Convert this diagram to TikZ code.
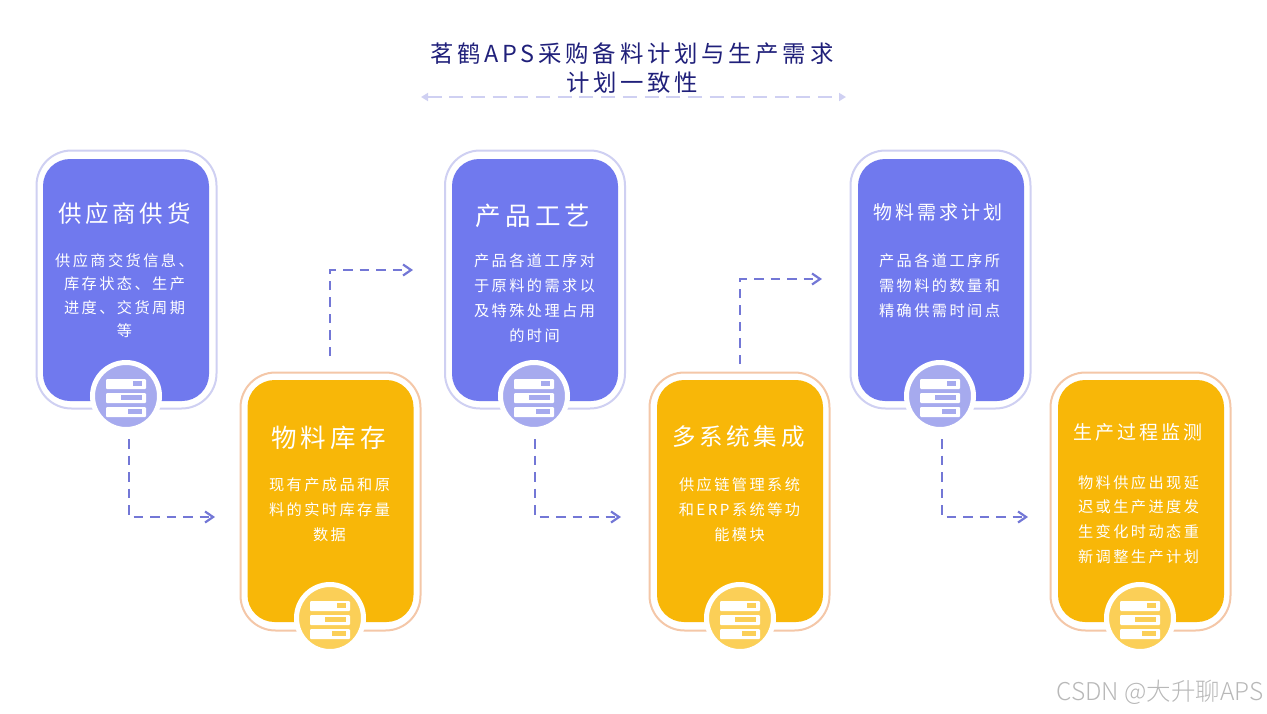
\documentclass[tikz,border=0pt]{standalone}
\usepackage{fontspec}
\usepackage{tikz}
\usetikzlibrary{arrows.meta}
\setmainfont{Noto Sans CJK SC}
\newfontfamily\spacedfont[LetterSpace=16]{Noto Sans CJK SC}
\newfontfamily\markfont{Noto Sans CJK SC Light}
\definecolor{cardblue}{HTML}{7079EE}
\definecolor{cardamber}{HTML}{F8B708}
\definecolor{ringblue}{HTML}{CFD0F2}
\definecolor{ringamber}{HTML}{F4C7A8}
\definecolor{iconblue}{HTML}{A6AAEE}
\definecolor{iconamber}{HTML}{FBCF57}
\definecolor{flowblue}{HTML}{7377D6}
\definecolor{titleblue}{HTML}{20207A}
\tikzset{
  outerbox/.style={rounded corners=35pt, line width=2pt, fill=white, minimum width=180pt, minimum height=258pt, inner sep=0pt},
  innerbox/.style={rounded corners=27pt, minimum width=166pt, minimum height=242pt, inner sep=0pt},
  iconcircle/.style={circle, draw=white, line width=5pt, minimum size=67pt, inner sep=0pt},
  heading/.style={text=white},
  detail/.style={text=white, align=center, font=\fontsize{15.2}{24.8}\spacedfont},
  flowline/.style={draw=flowblue, line width=2.2pt, dash pattern=on 9.5pt off 7pt, -{Straight Barb[length=8pt,width=11pt]}},
  pics/servericon/.style={code={
    \fill[white,rounded corners=1pt] (-20,-17) rectangle (20,-7);
    \fill[white,rounded corners=1pt] (-20,-3) rectangle (20,7);
    \fill[white,rounded corners=1pt] (-20,11) rectangle (20,21);
    \fill[#1] (7,-15) rectangle (16,-10);
    \fill[#1] (-5,-1) rectangle (16,4);
    \fill[#1] (2,13) rectangle (16,18);
  }}
}
\begin{document}
\begin{tikzpicture}[x=1pt, y=-1pt]
    \useasboundingbox (0,0) rectangle (1267,713);

    % title
    \node[text=titleblue, align=center, font=\fontsize{23.4}{29}\spacedfont] (title) at (632,68) {茗鹤APS采购备料计划与生产需求\\计划一致性};
    \coordinate (ruleleft) at (421,97);
    \coordinate (ruleright) at (846,97);
    \draw[draw=ringblue, line width=2pt, dash pattern=on 14pt off 7.7pt, {Triangle[length=7pt,width=8pt]}-{Triangle[length=7pt,width=8pt]}] (ruleleft) -- (ruleright);

    % cards
    \node[outerbox, draw=ringblue] (outer1) at (126.5,279.5) {};
    \node[innerbox, fill=cardblue] (card1) at (126,280) {};
    \node[outerbox, draw=ringamber] (outer2) at (330.5,501.5) {};
    \node[innerbox, fill=cardamber] (card2) at (330.5,501) {};
    \node[outerbox, draw=ringblue] (outer3) at (535,279.5) {};
    \node[innerbox, fill=cardblue] (card3) at (535,280) {};
    \node[outerbox, draw=ringamber] (outer4) at (739.5,501.5) {};
    \node[innerbox, fill=cardamber] (card4) at (740,501) {};
    \node[outerbox, draw=ringblue] (outer5) at (940.5,279.5) {};
    \node[innerbox, fill=cardblue] (card5) at (941,280) {};
    \node[outerbox, draw=ringamber] (outer6) at (1140.5,501.5) {};
    \node[innerbox, fill=cardamber] (card6) at (1141,501) {};

    % card texts
    \node[heading, font=\fontsize{23.5}{28}\spacedfont] (head1) at (124.5,214) {供应商供货};
    \node[detail, font=\fontsize{15.2}{23.3}\spacedfont] (text1) at (124.5,295.5) {供应商交货信息、\\库存状态、生产\\进度、交货周期\\等};
    \node[heading, font=\fontsize{25.5}{30}\spacedfont] (head2) at (328.5,438) {物料库存};
    \node[detail] (text2) at (329.5,509.5) {现有产成品和原\\料的实时库存量\\数据};
    \node[heading, font=\fontsize{25.5}{30}\spacedfont] (head3) at (533,216) {产品工艺};
    \node[detail] (text3) at (534.5,298) {产品各道工序对\\于原料的需求以\\及特殊处理占用\\的时间};
    \node[heading, font=\fontsize{23.5}{28}\spacedfont] (head4) at (738.5,437) {多系统集成};
    \node[detail] (text4) at (739.5,509.5) {供应链管理系统\\和ERP系统等功\\能模块};
    \node[heading, font=\fontsize{19}{23}\spacedfont] (head5) at (938,212.5) {物料需求计划};
    \node[detail] (text5) at (939.5,285.5) {产品各道工序所\\需物料的数量和\\精确供需时间点};
    \node[heading, font=\fontsize{19}{23}\spacedfont] (head6) at (1138,432.5) {生产过程监测};
    \node[detail] (text6) at (1138.5,519.5) {物料供应出现延\\迟或生产进度发\\生变化时动态重\\新调整生产计划};

    % icons
    \node[iconcircle, fill=iconblue] (icon1) at (126,396) {};
    \pic at (icon1) {servericon=iconblue};
    \node[iconcircle, fill=iconamber] (icon2) at (330,618) {};
    \pic at (icon2) {servericon=iconamber};
    \node[iconcircle, fill=iconblue] (icon3) at (534,396) {};
    \pic at (icon3) {servericon=iconblue};
    \node[iconcircle, fill=iconamber] (icon4) at (740,618) {};
    \pic at (icon4) {servericon=iconamber};
    \node[iconcircle, fill=iconblue] (icon5) at (940,396) {};
    \pic at (icon5) {servericon=iconblue};
    \node[iconcircle, fill=iconamber] (icon6) at (1140,618) {};
    \pic at (icon6) {servericon=iconamber};

    % connectors
    \coordinate (flow1) at (129,439);
    \coordinate (end1) at (215,517);
    \draw[flowline] (flow1) |- (end1);
    \coordinate (flow2) at (330,356);
    \coordinate (end2) at (413,270);
    \draw[flowline] (flow2) |- (end2);
    \coordinate (flow3) at (535,439);
    \coordinate (end3) at (621,517);
    \draw[flowline] (flow3) |- (end3);
    \coordinate (flow4) at (740,364);
    \coordinate (end4) at (822,279);
    \draw[flowline] (flow4) |- (end4);
    \coordinate (flow5) at (942,439);
    \coordinate (end5) at (1028,517);
    \draw[flowline] (flow5) |- (end5);

    % watermark
    \node[text=black!28, font=\fontsize{24.5}{29}\markfont] (mark) at (1160,692) {CSDN @大升聊APS};
\end{tikzpicture}
\end{document}
